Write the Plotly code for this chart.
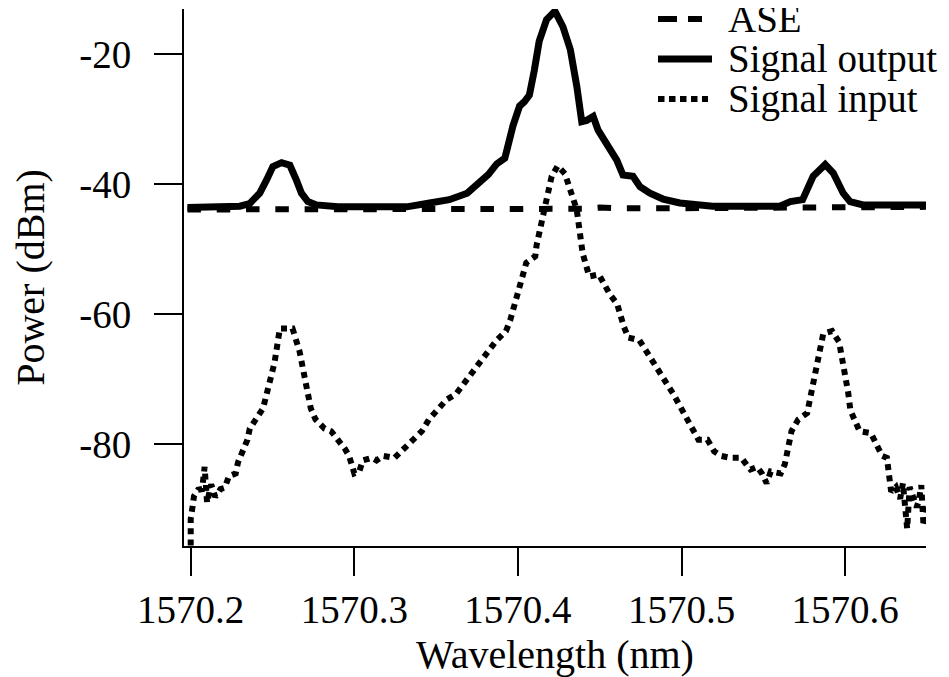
import plotly.graph_objects as go

# ---------------- data ----------------
X_TICKS = [1570.2, 1570.3, 1570.4, 1570.5, 1570.6]
X_TICK_LABELS = ["1570.2", "1570.3", "1570.4", "1570.5", "1570.6"]
Y_TICKS = [-20, -40, -60, -80]
Y_TICK_LABELS = ["-20", "-40", "-60", "-80"]

SERIES_NAMES = ["ASE", "Signal output", "Signal input"]

ASE_WL = [1570.198, 1570.25, 1570.30, 1570.35, 1570.40, 1570.44, 1570.45,
          1570.46, 1570.50, 1570.55, 1570.60, 1570.65]
ASE_P = [-43.9, -43.9, -43.9, -43.85, -43.85, -43.8, -43.6, -43.7, -43.7,
         -43.6, -43.5, -43.5]

OUT_WL = [1570.198, 1570.215, 1570.230, 1570.236, 1570.2422, 1570.2463,
          1570.2502, 1570.2555, 1570.2606, 1570.2646, 1570.2677, 1570.2716,
          1570.2769, 1570.290, 1570.310, 1570.332, 1570.346, 1570.358,
          1570.369, 1570.376, 1570.382, 1570.387, 1570.392, 1570.397,
          1570.401, 1570.404, 1570.407, 1570.410, 1570.413, 1570.4175,
          1570.4226, 1570.4275, 1570.432, 1570.436, 1570.439, 1570.442,
          1570.446, 1570.449, 1570.4543, 1570.4604, 1570.4642, 1570.4703,
          1570.4746, 1570.4807, 1570.4887, 1570.499, 1570.519, 1570.540,
          1570.560, 1570.5665, 1570.574, 1570.5804, 1570.5878, 1570.5927,
          1570.5988, 1570.603, 1570.611, 1570.630, 1570.652]
OUT_P = [-43.6, -43.5, -43.4, -43.0, -41.4, -39.4, -37.3, -36.7, -37.1,
         -39.4, -41.4, -42.7, -43.2, -43.5, -43.5, -43.5, -42.9, -42.4,
         -41.4, -39.9, -38.5, -36.9, -36.0, -31.0, -28.0, -27.3, -26.3,
         -22.5, -18.0, -14.7, -13.4, -15.8, -19.3, -25.0, -30.4, -30.2,
         -29.6, -31.7, -33.7, -36.3, -38.6, -38.8, -40.4, -41.4, -42.3,
         -42.9, -43.4, -43.4, -43.4, -42.7, -42.4, -38.8, -37.0, -38.3,
         -41.4, -42.7, -43.2, -43.2, -43.2]

IN_WL = [1570.2000, 1570.2000, 1570.2012, 1570.2020, 1570.2045, 1570.2070,
         1570.2085, 1570.2100, 1570.2125, 1570.2150, 1570.2182, 1570.2208,
         1570.2234, 1570.2275, 1570.2289, 1570.2347, 1570.2361, 1570.2402,
         1570.2442, 1570.2512, 1570.2545, 1570.2622, 1570.2665, 1570.2734,
         1570.2763, 1570.2818, 1570.2858, 1570.2942, 1570.2968, 1570.3000,
         1570.3030, 1570.3052, 1570.3107, 1570.3136, 1570.3176, 1570.3246,
         1570.3303, 1570.3413, 1570.3456, 1570.3566, 1570.3621, 1570.3760,
         1570.3870, 1570.3927, 1570.3953, 1570.4051, 1570.4106, 1570.4114,
         1570.4206, 1570.4243, 1570.4287, 1570.4359, 1570.4396, 1570.4436,
         1570.4494, 1570.4563, 1570.4606, 1570.4647, 1570.4675, 1570.4742,
         1570.4785, 1570.4950, 1570.5103, 1570.5158, 1570.5199, 1570.5242,
         1570.5297, 1570.5366, 1570.5407, 1570.5421, 1570.5462, 1570.5491,
         1570.5520, 1570.5545, 1570.5606, 1570.5631, 1570.5672, 1570.5713,
         1570.5768, 1570.5866, 1570.5920, 1570.5963, 1570.6018, 1570.6032,
         1570.6088, 1570.6157, 1570.6226, 1570.6255, 1570.6281, 1570.6310,
         1570.6336, 1570.6353, 1570.6379, 1570.6394, 1570.6437, 1570.6450,
         1570.6465, 1570.6479, 1570.6493, 1570.6505]
IN_P = [-95.6, -91.5, -89.5, -88.0, -87.0, -86.9, -83.5, -89.0, -86.2,
        -88.1, -86.9, -86.7, -84.9, -84.5, -82.8, -79.3, -77.6, -76.2,
        -74.5, -67.5, -62.2, -62.2, -65.7, -74.5, -76.2, -77.6, -78.0,
        -80.7, -81.8, -84.5, -84.2, -82.5, -82.1, -82.5, -81.8, -82.1,
        -80.7, -78.0, -76.2, -73.1, -72.3, -67.5, -64.0, -62.6, -60.9,
        -52.1, -51.1, -49.4, -38.8, -37.2, -38.4, -43.9, -50.7, -54.2,
        -53.9, -57.0, -58.4, -61.9, -63.6, -64.0, -65.7, -72.3, -79.3,
        -79.3, -81.1, -81.8, -82.1, -82.1, -83.5, -83.9, -83.5, -84.5,
        -86.0, -84.2, -84.5, -83.1, -78.0, -76.2, -75.2, -63.0, -62.6,
        -64.3, -72.0, -74.8, -78.0, -78.3, -81.8, -82.1, -87.3, -86.6,
        -88.4, -86.0, -93.0, -86.6, -89.7, -88.7, -86.3, -92.6, -90.8,
        -89.1]

X_RANGE = [1570.1959, 1570.6494]
Y_RANGE = [-95.66, -13.07]

# ---------------- styles ----------------
FONT = "Liberation Serif, Times New Roman, Times, serif"
TICK_SIZE = 39
TEXT_SIZE = 40
LEGEND_SIZE = 39
ASE_DASH = "13.5px,15.8px"
IN_DASH = "6px,5.3px"
LW = 7

fig = go.Figure()
fig.add_trace(go.Scatter(x=ASE_WL, y=ASE_P, mode="lines", name=SERIES_NAMES[0],
                         line=dict(color="black", width=6, dash=ASE_DASH)))
fig.add_trace(go.Scatter(x=OUT_WL, y=OUT_P, mode="lines", name=SERIES_NAMES[1],
                         line=dict(color="black", width=LW)))
fig.add_trace(go.Scatter(x=IN_WL, y=IN_P, mode="lines", name=SERIES_NAMES[2],
                         line=dict(color="black", width=6, dash=IN_DASH)))

# page body adds an 8px offset, so the figure is 8px smaller than the window
OFF = 8
W, H = 949 - OFF, 677 - OFF
ML, MT = 184 - OFF, 9 - OFF
MR = W - (926 - OFF)
MB = H - (546 - OFF)
PW, PH = W - ML - MR, H - MT - MB


def px_x(p):
    return (p - OFF - ML) / PW


def px_y(p):
    return (H - MB - (p - OFF)) / PH


# (name, sample line y, text centre y, line style, sample end x) in window pixels
legend_rows = [
    (SERIES_NAMES[0], 19, 19, dict(color="black", width=6, dash="19px,11px"), 702),
    (SERIES_NAMES[1], 59, 59, dict(color="black", width=LW), 712),
    (SERIES_NAMES[2], 99, 99, dict(color="black", width=6, dash="6.5px,4.5px"), 708),
]
shapes = []
annotations = []
for name, yline, ytxt, ln, xend in legend_rows:
    shapes.append(dict(type="line", xref="paper", yref="paper",
                       x0=px_x(658), x1=px_x(xend), y0=px_y(yline), y1=px_y(yline),
                       line=ln))
    annotations.append(dict(text=name, xref="paper", yref="paper",
                            x=px_x(727), y=px_y(ytxt), xanchor="left",
                            yanchor="middle", showarrow=False, borderpad=0,
                            font=dict(family=FONT, size=LEGEND_SIZE, color="black")))

fig.update_layout(
    width=W, height=H,
    margin=dict(l=ML, r=MR, t=MT, b=MB, autoexpand=False),
    plot_bgcolor="white", paper_bgcolor="white",
    showlegend=False,
    font=dict(family=FONT, color="black"),
    shapes=shapes,
    annotations=annotations,
)
fig.update_xaxes(
    range=X_RANGE, tickvals=X_TICKS, ticktext=X_TICK_LABELS,
    ticks="outside", ticklen=28, tickwidth=2, tickcolor="black",
    showline=True, linewidth=2, linecolor="black",
    showgrid=False, zeroline=False, automargin=False,
    tickfont=dict(family=FONT, size=TICK_SIZE, color="black"),
    title=dict(text="Wavelength (nm)", font=dict(family=FONT, size=TEXT_SIZE, color="black"),
               standoff=12),
)
fig.update_yaxes(
    range=Y_RANGE, tickvals=Y_TICKS, ticktext=Y_TICK_LABELS,
    ticks="outside", ticklen=28, tickwidth=2, tickcolor="black",
    showline=True, linewidth=2, linecolor="black",
    showgrid=False, zeroline=False, automargin=False,
    tickfont=dict(family=FONT, size=TICK_SIZE, color="black"),
    ticklabelstandoff=15,
    title=dict(text="Power (dBm)", font=dict(family=FONT, size=TEXT_SIZE, color="black"),
               standoff=44),
)

fig.write_html("out.html")
